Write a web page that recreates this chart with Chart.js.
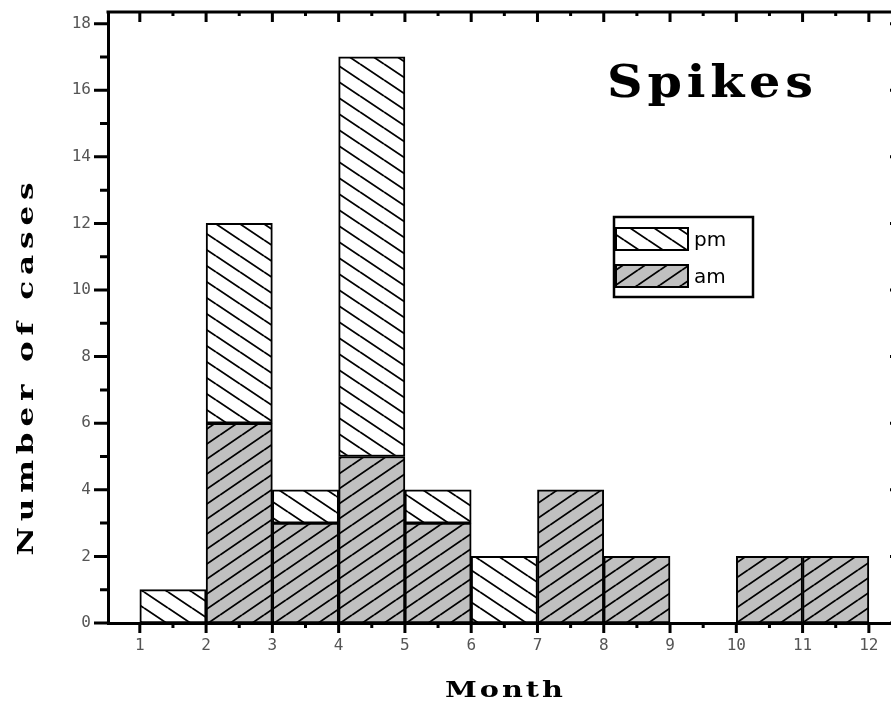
<!DOCTYPE html>
<html>
<head>
<meta charset="utf-8">
<title>Spikes</title>
<script src="https://cdn.jsdelivr.net/npm/chart.js@4.4.0/dist/chart.umd.min.js"></script>
<style>
  html, body { margin: 0; padding: 0; background: #fff; overflow: hidden; }
  #wrap { width: 902px; height: 701px; }
</style>
</head>
<body>
<div id="wrap"><canvas id="spikesChart" width="902" height="701"></canvas></div>
<script>
/* data */
const binStart = [1, 2, 3, 4, 5, 6, 7, 8, 9, 10, 11];   // each bar covers [m, m+1]
const amCases  = [0, 6, 3, 5, 3, 0, 4, 2, 0, 2, 2];
const pmCases  = [1, 6, 1, 12, 1, 2, 0, 0, 0, 0, 0];
const monthTicks = [1, 2, 3, 4, 5, 6, 7, 8, 9, 10, 11, 12];
const caseTicks  = [0, 2, 4, 6, 8, 10, 12, 14, 16, 18];
const seriesNames = ['pm', 'am'];
const chartTitle = 'Spikes';
const xTitle = 'Month';
const yTitle = 'Number of cases';

const canvas = document.getElementById('spikesChart');
const ctx = canvas.getContext('2d');

/* diagonal hatch pattern tiles */
function makeHatch(bg, dir, w, h) {
  const c = document.createElement('canvas');
  c.width = w; c.height = h;
  const g = c.getContext('2d');
  g.fillStyle = bg;
  g.fillRect(0, 0, w, h);
  g.strokeStyle = '#000';
  g.lineWidth = 1.8;
  g.beginPath();
  for (let k = -1; k <= 1; k++) {
    if (dir === 'up') { g.moveTo(0, h + k * h); g.lineTo(w, k * h); }
    else { g.moveTo(0, k * h); g.lineTo(w, h + k * h); }
  }
  g.stroke();
  return ctx.createPattern(c, 'repeat');
}
const pmFill = makeHatch('#ffffff', 'down', 24, 16);
const amFill = makeHatch('#c0c0c0', 'up', 22, 15);

const toPoints = vals => binStart.map((m, i) => ({ x: m + 0.5, y: vals[i] }));

const tickFont = { family: 'DejaVu Sans Mono', size: 16 };

/* wide bold text: stretch glyphs by sx, then letter-space to fill width */
function spacedText(g, text, cx, y, width, sx) {
  g.save();
  g.translate(cx - width / 2, y);
  g.scale(sx, 1);
  g.letterSpacing = '0px';
  const w = g.measureText(text).width;
  const gap = Math.max(0, (width / sx - w) / (text.length - 1));
  g.letterSpacing = gap + 'px';
  g.textAlign = 'left';
  g.fillText(text, 0, 0);
  g.restore();
}

/* frame, minor/major ticks, titles and the boxed legend */
const decorPlugin = {
  id: 'decor',
  afterDraw(chart) {
    const g = chart.ctx;
    const xs = chart.scales.x, ys = chart.scales.y;
    const a = chart.chartArea;
    g.save();
    g.strokeStyle = '#000';
    g.lineCap = 'butt';

    // top and right frame
    g.lineWidth = 3;
    g.beginPath();
    g.moveTo(a.left - 1.5, a.top); g.lineTo(a.right, a.top);
    g.moveTo(a.right, a.top); g.lineTo(a.right, a.bottom);
    g.stroke();

    // y ticks (left outward, right inward)
    for (let v = 0; v <= Math.floor(ys.max); v++) {
      const y = ys.getPixelForValue(v);
      const major = v % 2 === 0;
      g.lineWidth = 3;
      g.beginPath();
      g.moveTo(a.left, y); g.lineTo(a.left - (major ? 14 : 8), y);
      g.moveTo(a.right, y); g.lineTo(a.right - (major ? 12 : 5), y);
      g.stroke();
    }
    // x ticks (bottom outward, top inward)
    for (let v = Math.ceil(xs.min * 2) / 2; v <= xs.max; v += 0.5) {
      const x = xs.getPixelForValue(v);
      const major = Number.isInteger(v);
      g.lineWidth = 3;
      g.beginPath();
      g.moveTo(x, a.bottom); g.lineTo(x, a.bottom + (major ? 10 : 5));
      g.moveTo(x, a.top); g.lineTo(x, a.top + (major ? 10 : 4));
      g.stroke();
    }

    // titles
    g.fillStyle = '#000';
    g.textBaseline = 'alphabetic';
    g.font = 'bold 44px "DejaVu Serif"';
    spacedText(g, chartTitle, 710, 97, 206, 1.12);

    g.font = 'bold 23px "DejaVu Serif"';
    spacedText(g, xTitle, 504, 697, 118, 1.25);

    g.save();
    g.translate(33, 369);
    g.rotate(-Math.PI / 2);
    g.font = 'bold 23px "DejaVu Serif"';
    spacedText(g, yTitle, 0, 0, 373, 1.35);
    g.restore();

    // legend box
    g.lineWidth = 2.5;
    g.strokeRect(614, 217, 139, 80);
    const fills = [pmFill, amFill];
    const rowTop = [228, 265];
    g.font = '20px "DejaVu Sans"';
    seriesNames.forEach((name, i) => {
      g.fillStyle = fills[i];
      g.fillRect(616, rowTop[i], 72, 22);
      g.lineWidth = 2;
      g.strokeRect(616, rowTop[i], 72, 22);
      g.fillStyle = '#000';
      g.textAlign = 'left';
      g.fillText(name, 694, rowTop[i] + 18);
    });
    g.restore();
  }
};

new Chart(ctx, {
  type: 'bar',
  data: {
    datasets: [
      { label: seriesNames[1], data: toPoints(amCases), backgroundColor: amFill,
        borderColor: '#000', borderWidth: 2, borderSkipped: false },
      { label: seriesNames[0], data: toPoints(pmCases), backgroundColor: pmFill,
        borderColor: '#000', borderWidth: 2, borderSkipped: false }
    ]
  },
  options: {
    responsive: false,
    animation: false,
    layout: { autoPadding: false, padding: { top: 12, left: 0, right: 0, bottom: 0 } },
    datasets: { bar: { barPercentage: 1, categoryPercentage: 1 } },
    plugins: { legend: { display: false }, tooltip: { enabled: false } },
    scales: {
      x: {
        type: 'linear', min: 0.52, max: 12.5, stacked: true, offset: false,
        afterBuildTicks: s => { s.ticks = monthTicks.map(v => ({ value: v })); },
        afterFit: s => { s.height = 78; s.paddingLeft = 0; s.paddingRight = 0; },
        grid: { display: false, drawTicks: false },
        border: { display: true, color: '#000', width: 3 },
        ticks: { font: tickFont, color: '#555', padding: 13, maxRotation: 0 }
      },
      y: {
        min: 0, max: 18.35, stacked: true,
        afterBuildTicks: s => { s.ticks = caseTicks.map(v => ({ value: v })); },
        afterFit: s => { s.width = 108; s.paddingTop = 0; s.paddingBottom = 0; },
        grid: { display: false, drawTicks: false },
        border: { display: true, color: '#000', width: 3 },
        ticks: { font: tickFont, color: '#555', padding: 17 }
      }
    }
  },
  plugins: [decorPlugin]
});
</script>
</body>
</html>
